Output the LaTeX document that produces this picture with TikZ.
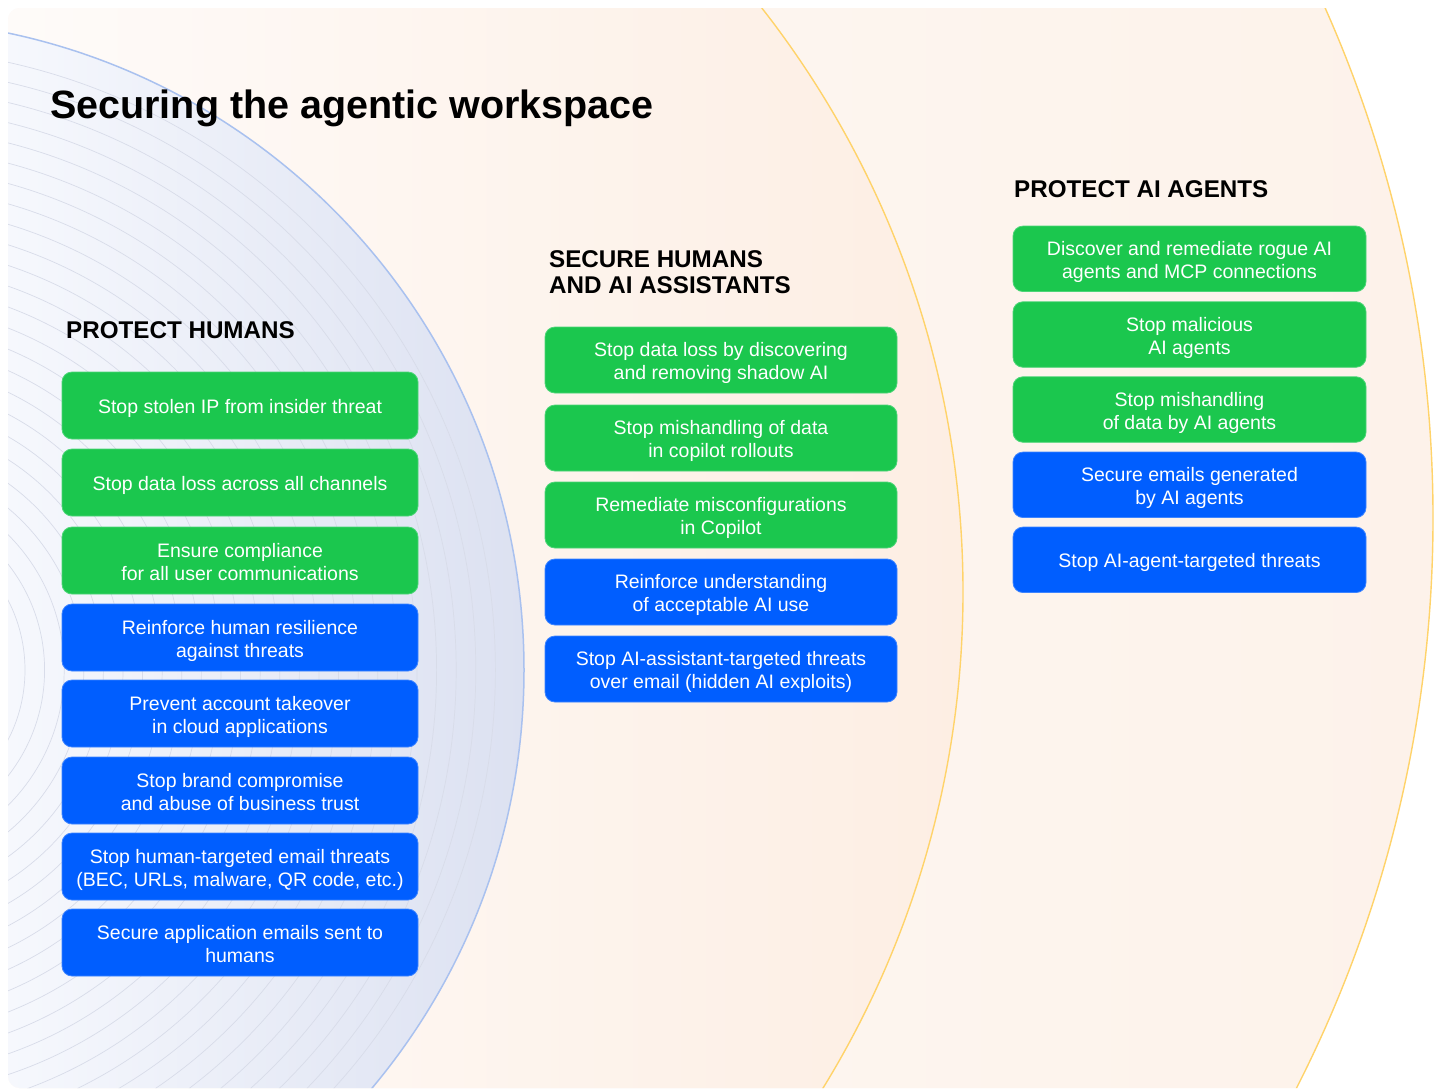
\documentclass[tikz,border=0pt]{standalone}
\usepackage{fontspec}
\setmainfont{Liberation Sans}
\definecolor{gfill}{HTML}{1BC74E}
\definecolor{bfill}{HTML}{005EFF}
\definecolor{gline}{HTML}{4CD577}
\definecolor{bline}{HTML}{3D84FF}
\definecolor{ring}{HTML}{FFD36A}
\definecolor{innerring}{HTML}{A9C1EF}
\definecolor{peachA}{HTML}{FEFBF9}
\definecolor{peachB}{HTML}{FDEEE3}
\definecolor{outerA}{HTML}{FEF9F5}
\definecolor{outerB}{HTML}{FDF2EA}
\definecolor{blueA}{HTML}{F6F8FD}
\definecolor{blueB}{HTML}{DCE1F1}
\definecolor{arcline}{HTML}{D8DCE9}
\tikzset{
  box/.style={rounded corners=10pt, inner sep=0pt, align=center, text=white,
    font=\fontsize{19.5}{23}\selectfont, line width=0.8pt, text height=43.2pt, text depth=4.1pt},
  oneline/.style={text height=20pt},
  lbox/.style={box, minimum width=356pt, minimum height=67pt},
  mbox/.style={box, minimum width=352pt, minimum height=66pt},
  rbox/.style={box, minimum width=353pt, minimum height=65.5pt},
  gbox/.style={fill=gfill, draw=gline},
  bbox/.style={fill=bfill, draw=bline},
  head/.style={inner sep=0pt, align=left, font=\fontsize{24.2}{26.5}\selectfont\bfseries},
}
\begin{document}
\begin{tikzpicture}[x=1pt,y=-1pt]
\useasboundingbox (0,0) rectangle (1435,1090);
\fill[white] (0,0) rectangle (1435,1090);
\begin{scope}
  \clip[rounded corners=12pt] (8,8) rectangle (1445,1088);
  % outer region
  \begin{scope}
    \clip (177,518) circle[radius=1256pt];
    \shade[left color=outerA, right color=outerB] (8,8) rectangle (1435,1088);
  \end{scope}
  % middle region
  \begin{scope}
    \clip (15,592) circle[radius=948pt];
    \shade[left color=peachA, right color=peachB] (8,8) rectangle (963,1088);
  \end{scope}
  \draw[ring, line width=1.4pt] (15,592) circle[radius=948pt];
  \draw[ring, line width=1.4pt] (177,518) circle[radius=1256pt];
  % inner circle
  \begin{scope}
    \clip (-127,670) circle[radius=651pt];
    \shade[left color=blueA, right color=blueB] (8,8) rectangle (524,1088);
    \foreach \k in {0,...,24}{
      \pgfmathsetmacro\rr{152+19.6*\k}
      \draw[arcline, line width=0.7pt] (-127,670) circle[radius=\rr pt];
    }
  \end{scope}
  \draw[innerring, line width=1.5pt] (-127,670) circle[radius=651pt];
\end{scope}

% title
\node[anchor=base west, inner sep=0pt, font=\fontsize{39.5}{44}\selectfont\bfseries] (t) at (50,118) {Securing the agentic workspace};

% headers
\node[head, anchor=base west] (h1) at (66,338) {PROTECT HUMANS};
\node[head, anchor=north west] (h2) at (549,250) {SECURE HUMANS\\AND AI ASSISTANTS};
\node[head, anchor=base west] (h3) at (1014,197) {PROTECT AI AGENTS};

% left column
\node[lbox, gbox, oneline] (l1) at (240,405.5) {Stop stolen IP from insider threat};
\node[lbox, gbox, oneline] (l2) at (240,482.5) {Stop data loss across all channels};
\node[lbox, gbox] (l3) at (240,560.5) {Ensure compliance\\for all user communications};
\node[lbox, bbox] (l4) at (240,637.5) {Reinforce human resilience\\against threats};
\node[lbox, bbox] (l5) at (240,713.5) {Prevent account takeover\\in cloud applications};
\node[lbox, bbox] (l6) at (240,790.5) {Stop brand compromise\\and abuse of business trust};
\node[lbox, bbox] (l7) at (240,866.5) {Stop human-targeted email threats\\(BEC, URLs, malware, QR code, etc.)};
\node[lbox, bbox] (l8) at (240,942.5) {Secure application emails sent to\\humans};

% middle column
\node[mbox, gbox] (m1) at (721,360) {Stop data loss by discovering\\and removing shadow AI};
\node[mbox, gbox] (m2) at (721,438) {Stop mishandling of data\\in copilot rollouts};
\node[mbox, gbox] (m3) at (721,515) {Remediate misconfigurations\\in Copilot};
\node[mbox, bbox] (m4) at (721,592) {Reinforce understanding\\of acceptable AI use};
\node[mbox, bbox] (m5) at (721,669) {Stop AI-assistant-targeted threats\\over email (hidden AI exploits)};

% right column
\node[rbox, gbox] (r1) at (1189.5,258.8) {Discover and remediate rogue AI\\agents and MCP connections};
\node[rbox, gbox] (r2) at (1189.5,334.5) {Stop malicious\\AI agents};
\node[rbox, gbox] (r3) at (1189.5,409.5) {Stop mishandling\\of data by AI agents};
\node[rbox, bbox] (r4) at (1189.5,484.8) {Secure emails generated\\by AI agents};
\node[rbox, bbox, oneline] (r5) at (1189.5,559.8) {Stop AI-agent-targeted threats};
\end{tikzpicture}
\end{document}
